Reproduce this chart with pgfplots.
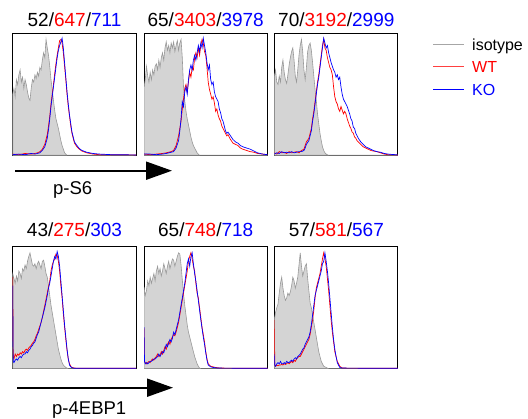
\documentclass[border=0pt]{standalone}
\usepackage{pgfplots}
\pgfplotsset{compat=1.18}
\usepackage{fontspec}
\setmainfont{Liberation Sans}
\usetikzlibrary{arrows.meta}

\pgfplotsset{
  panel/.style={scale only axis, width=123.5pt, height=122pt,
    xmin=0, xmax=100, ymin=0, ymax=100, ticks=none,
    axis line style={line width=1pt}, anchor=south west},
  iso/.style={draw=black!40, fill=black!17, line width=0.6pt},
  wt/.style={red, line width=0.7pt},
  ko/.style={blue, line width=0.7pt},
}
\newcommand{\ttl}[3]{#1/\textcolor{red}{#2}/\textcolor{blue}{#3}}

\begin{document}
\begin{tikzpicture}[x=1pt,y=1pt]
\useasboundingbox (0,0) rectangle (528,419);

% ---------- p-S6 row ----------
\begin{axis}[panel, at={(12.7pt,263.7pt)}]
\addplot[iso] coordinates {(0,50) (1,55) (2,48) (3,62) (4,58) (5,66) (6,70) (7,60) (8,64) (9,55) (10,62) (11,58) (12,52) (13,47) (14,45) (15,55) (16,62) (17,60) (18,66) (19,63) (20,68) (21,65) (22,72) (23,70) (24,78) (25,84) (26,80) (27,95) (28,88) (29,82) (30,73) (31,62) (32,54) (33,45) (34,37) (35,30) (36,26) (37,22) (38,17) (39,12) (40,8) (41,5) (42,2) (43,1) (44,0) (100,0)} \closedcycle;
\addplot[wt] coordinates {(0,1) (5,0.5) (10,1.5) (15,1) (18,1.5) (20,2) (22,3) (24,5) (26,9) (28,17) (29,24) (30,32) (31,42) (32,50) (33,58) (34,67) (35,75) (36,82) (37,88) (38,94) (39,95) (40,92) (41,84) (42,73) (43,62) (44,50) (45,40) (46,32) (47,24) (48,18) (49,14) (50,10) (52,7) (54,5) (56,3.5) (60,2) (65,1) (70,0.5) (80,0.5) (100,0.3)};
\addplot[ko] coordinates {(0,0.5) (5,1) (10,0.5) (15,1.5) (18,1) (20,1.5) (22,2) (24,4) (26,7) (28,14) (29,21) (30,30) (31,40) (32,48) (33,56) (34,64) (35,72) (36,80) (37,86) (38,90) (39,93) (40,96) (41,88) (42,76) (43,64) (44,52) (45,42) (46,33) (47,26) (48,19) (49,15) (50,11) (52,8) (54,5.5) (56,4) (60,2.5) (65,1.5) (70,1) (80,0.5) (100,0.3)};
\end{axis}

\begin{axis}[panel, at={(144pt,263.7pt)}]
\addplot[iso] coordinates {(0,55) (1,62) (2,73) (3,65) (4,60) (5,68) (6,62) (7,70) (8,66) (9,73) (10,75) (11,70) (12,78) (13,72) (14,80) (15,84) (16,78) (17,88) (18,93) (19,86) (20,90) (21,84) (22,92) (23,88) (24,93) (25,85) (26,90) (27,94) (28,86) (29,92) (30,95) (31,80) (32,56) (33,45) (34,36) (35,30) (36,25) (37,20) (38,15) (39,11) (40,8) (41,6) (42,4) (43,2) (44,1) (45,0) (100,0)} \closedcycle;
\addplot[wt] coordinates {(0,1) (5,0.5) (10,1) (15,1.5) (18,2) (20,2.5) (22,3) (24,4) (26,8) (28,16) (29,22) (30,28) (31,38) (32,46) (33,55) (34,58) (35,52) (36,60) (37,68) (38,64) (39,72) (40,70) (41,80) (42,84) (43,80) (44,88) (45,82) (46,90) (47,95) (48,92) (49,85) (50,82) (51,72) (52,60) (53,54) (54,50) (55,46) (56,48) (57,43) (58,36) (59,38) (60,33) (61,30) (62,28) (63,24) (64,22) (65,20) (66,18) (67,16) (68,17) (70,13) (72,10) (74,9) (76,8) (78,6) (80,5) (83,4) (86,3) (89,2.5) (92,1.5) (96,1) (100,0.5)};
\addplot[ko] coordinates {(0,1) (5,1) (10,0.5) (15,1) (18,1.5) (20,2) (22,2.5) (24,3) (26,6) (28,12) (29,20) (30,30) (31,44) (32,40) (33,52) (34,56) (35,50) (36,62) (37,70) (38,74) (39,70) (40,78) (41,82) (42,78) (43,84) (44,90) (45,85) (46,92) (47,88) (48,96) (49,90) (50,84) (51,76) (52,70) (53,74) (54,62) (55,58) (56,60) (57,52) (58,48) (59,46) (60,44) (61,38) (62,35) (63,30) (64,28) (65,24) (66,20) (67,18) (68,19) (70,16) (72,13) (74,11) (76,10) (78,8) (80,7) (83,6) (86,5) (89,3.5) (92,2) (96,1) (100,0.5)};
\end{axis}

\begin{axis}[panel, at={(274.3pt,263.7pt)}]
\addplot[iso] coordinates {(0,64) (1,70) (2,60) (3,58) (4,65) (5,60) (6,72) (7,78) (8,68) (9,62) (10,59) (11,66) (12,74) (13,80) (14,85) (15,88) (16,78) (17,65) (18,60) (19,70) (20,82) (21,90) (22,95) (23,85) (24,70) (25,62) (26,72) (27,85) (28,90) (29,92) (30,86) (31,76) (32,65) (33,54) (34,45) (35,34) (36,26) (37,18) (38,12) (39,7) (40,4) (41,2) (42,1) (44,0) (100,0)} \closedcycle;
\addplot[wt] coordinates {(0,2) (2,1) (4,3) (6,2) (8,2.5) (10,1.5) (12,3) (14,2) (16,2.5) (18,3) (20,2) (22,4) (24,5) (25,8) (26,11) (28,14) (30,22) (31,30) (32,36) (33,44) (34,52) (35,60) (36,66) (37,74) (38,82) (39,90) (40,95) (41,88) (42,86) (43,80) (44,76) (45,72) (46,70) (47,66) (48,56) (49,48) (50,44) (51,42) (52,38) (53,36) (54,40) (55,37) (56,34) (57,36) (58,34) (59,30) (60,27) (61,24) (62,22) (63,19) (64,18) (65,15) (66,14) (67,12) (68,11) (70,9) (72,7) (74,6) (76,5) (78,4) (80,3.5) (83,3) (86,2) (89,1) (92,0.5) (100,0.3)};
\addplot[ko] coordinates {(0,1) (2,2) (4,1.5) (6,3) (8,2) (10,2.5) (12,2) (14,3) (16,2) (18,2.5) (20,3) (22,3) (24,4) (25,6) (26,9) (28,12) (30,20) (31,28) (32,34) (33,42) (34,50) (35,58) (36,64) (37,72) (38,80) (39,88) (40,96) (41,92) (42,88) (43,90) (44,84) (45,80) (46,76) (47,73) (48,70) (49,68) (50,64) (51,66) (52,62) (53,64) (54,56) (55,50) (56,46) (57,44) (58,42) (59,40) (60,37) (61,34) (62,30) (63,28) (64,23) (65,22) (66,18) (67,16) (68,14) (70,11) (72,9) (74,7) (76,6) (78,5) (80,4) (83,3) (86,2.5) (89,1.5) (92,1) (100,0.3)};
\end{axis}

% ---------- p-4EBP1 row ----------
\begin{axis}[panel, at={(12.7pt,50.3pt)}]
\addplot[iso] coordinates {(0,78) (1,74) (2,70) (3,76) (4,72) (5,80) (6,78) (7,74) (8,82) (9,80) (10,85) (11,82) (12,88) (13,92) (14,95) (15,90) (16,85) (17,84) (18,86) (19,82) (20,86) (21,88) (22,85) (23,82) (24,88) (25,89) (26,84) (27,78) (28,75) (29,68) (30,60) (31,52) (32,46) (33,40) (34,34) (35,28) (36,22) (37,16) (38,12) (39,8) (40,5) (41,3) (42,2) (43,1) (45,0) (100,0)} \closedcycle;
\addplot[wt] coordinates {(0,75) (0.4,10) (1,8) (2,12) (3,10) (4,12) (5,11) (6,13) (7,12) (8,14) (9,13) (10,15) (11,16) (12,15) (13,17) (14,18) (15,19) (16,21) (17,22) (18,24) (19,27) (20,29) (21,32) (22,35) (23,38) (24,42) (25,47) (26,52) (27,57) (28,62) (29,67) (30,72) (31,80) (32,85) (33,88) (34,90) (35,94) (36,93) (37,88) (38,80) (39,68) (40,58) (41,45) (42,34) (43,24) (44,15) (45,8) (46,4) (47,2) (48,1) (50,0.5) (60,0.3) (100,0.3)};
\addplot[ko] coordinates {(0,68) (0.4,6) (1,5) (2,7) (3,8) (4,7) (5,9) (6,10) (7,9) (8,11) (9,12) (10,12) (11,14) (12,13) (13,15) (14,16) (15,18) (16,19) (17,21) (18,22) (19,25) (20,28) (21,30) (22,34) (23,38) (24,42) (25,46) (26,50) (27,55) (28,60) (29,66) (30,70) (31,76) (32,82) (33,88) (34,92) (35,90) (36,96) (37,92) (38,84) (39,72) (40,60) (41,48) (42,36) (43,26) (44,16) (45,8) (46,3) (47,1.5) (48,0.8) (50,0.3) (100,0.3)};
\end{axis}

\begin{axis}[panel, at={(144pt,50.3pt)}]
\addplot[iso] coordinates {(0,67) (1,60) (2,64) (3,72) (4,68) (5,75) (6,70) (7,74) (8,78) (9,72) (10,80) (11,84) (12,78) (13,82) (14,76) (15,80) (16,86) (17,82) (18,78) (19,84) (20,88) (21,82) (22,86) (23,90) (24,89) (25,84) (26,88) (27,92) (28,95) (29,94) (30,85) (31,73) (32,62) (33,52) (34,44) (35,36) (36,30) (37,26) (38,22) (39,18) (40,14) (41,10) (42,7) (43,4) (44,2) (45,0.5) (46,0) (100,0)} \closedcycle;
\addplot[wt] coordinates {(0,33) (0.4,6) (1,5) (2,4) (3,5) (4,6) (5,5) (6,7) (7,8) (8,7) (9,9) (10,10) (11,12) (12,10) (13,11) (14,14) (15,12) (16,15) (17,18) (18,16) (19,20) (20,22) (21,20) (22,24) (23,26) (24,28) (25,27) (26,30) (27,34) (28,38) (29,44) (30,50) (31,56) (32,62) (33,68) (34,74) (35,80) (36,88) (37,92) (38,95) (39,90) (40,84) (41,80) (42,70) (43,62) (44,58) (45,50) (46,42) (47,34) (48,28) (49,22) (50,14) (51,8) (52,4) (54,2) (56,1.5) (58,1) (62,0.5) (100,0.3)};
\addplot[ko] coordinates {(0,34) (0.4,6) (1,4) (2,5) (3,4) (4,5) (5,6) (6,6) (7,7) (8,8) (9,8) (10,9) (11,10) (12,12) (13,10) (14,12) (15,14) (16,13) (17,16) (18,20) (19,18) (20,21) (21,24) (22,22) (23,25) (24,30) (25,28) (26,32) (27,36) (28,40) (29,46) (30,52) (31,58) (32,64) (33,70) (34,78) (35,86) (36,90) (37,84) (38,92) (39,95) (40,86) (41,78) (42,72) (43,64) (44,56) (45,48) (46,40) (47,33) (48,26) (49,20) (50,13) (51,7) (52,3) (54,1.5) (56,1) (60,0.5) (100,0.3)};
\end{axis}

\begin{axis}[panel, at={(274.3pt,50.3pt)}]
\addplot[iso] coordinates {(0,40) (1,46) (2,50) (3,53) (4,62) (5,70) (6,75) (7,66) (8,60) (9,56) (10,58) (11,62) (12,60) (13,63) (14,68) (15,75) (16,72) (17,66) (18,70) (19,75) (20,85) (21,95) (22,84) (23,76) (24,80) (25,84) (26,86) (27,74) (28,64) (29,54) (30,50) (31,44) (32,38) (33,32) (34,26) (35,20) (36,14) (37,10) (38,6) (39,4) (40,2) (42,1) (44,0) (100,0)} \closedcycle;
\addplot[wt] coordinates {(0,40) (0.4,3) (1,2) (2,3) (3,2.5) (4,3) (5,3) (6,3.5) (7,3) (8,4) (9,3.5) (10,4) (11,5) (12,4) (13,5) (14,6) (15,5) (16,7) (17,6) (18,8) (19,9) (20,10) (21,10) (22,12) (23,14) (24,16) (25,18) (26,20) (27,22) (28,24) (29,28) (30,34) (31,40) (32,48) (33,58) (34,66) (35,70) (36,74) (37,78) (38,84) (39,90) (40,95) (41,90) (42,84) (43,74) (44,64) (45,52) (46,40) (47,30) (48,22) (49,14) (50,10) (51,6) (52,4) (53,2) (55,0.5) (100,0.3)};
\addplot[ko] coordinates {(0,12) (0.4,3) (1,2) (2,4) (3,5) (4,4) (5,6) (6,4) (7,4) (8,5) (9,4) (10,6) (11,5) (12,5) (13,6) (14,7) (15,6) (16,8) (17,9) (18,8) (19,10) (20,11) (21,12) (22,14) (23,16) (24,17) (25,20) (26,22) (27,24) (28,26) (29,30) (30,36) (31,44) (32,52) (33,60) (34,64) (35,68) (36,72) (37,76) (38,80) (39,86) (40,88) (41,95) (42,88) (43,80) (44,70) (45,58) (46,46) (47,34) (48,24) (49,16) (50,10) (51,5) (52,3) (53,1) (55,0.5) (100,0.3)};
\end{axis}

% ---------- titles ----------
\begin{scope}[every node/.style={font=\fontsize{19}{22}\selectfont, anchor=base, inner sep=0pt}]
\node at (74.5,392.3) {\ttl{52}{647}{711}};
\node at (205.7,392.3) {\ttl{65}{3403}{3978}};
\node at (336.3,392.3) {\ttl{70}{3192}{2999}};
\node at (74.5,182) {\ttl{43}{275}{303}};
\node at (205.7,182) {\ttl{65}{748}{718}};
\node at (336.3,182) {\ttl{57}{581}{567}};
\end{scope}

% ---------- arrows and marker names ----------
\draw[line width=2pt, -{Triangle[length=26pt,width=18pt]}] (15,248.3) -- (172,248.3);
\draw[line width=2pt, -{Triangle[length=26pt,width=18pt]}] (17,31.3) -- (173,31.3);
\node[font=\fontsize{18.5}{22}\selectfont, anchor=base west, inner sep=0pt] at (53,224.7) {p-S6};
\node[font=\fontsize{18.5}{22}\selectfont, anchor=base west, inner sep=0pt] at (52,4.5) {p-4EBP1};

% ---------- legend ----------
\draw[black!35, line width=1pt] (433,374.7) -- (464,374.7);
\draw[red!75, line width=1pt] (433,352.3) -- (464,352.3);
\draw[blue, line width=1pt] (433,329) -- (464,329);
\begin{scope}[every node/.style={font=\fontsize{16}{19}\selectfont, anchor=base west, inner sep=0pt}]
\node at (472,368.5) {isotype};
\node[text=red] at (472,346) {WT};
\node[text=blue] at (472,323) {KO};
\end{scope}
\end{tikzpicture}
\end{document}
